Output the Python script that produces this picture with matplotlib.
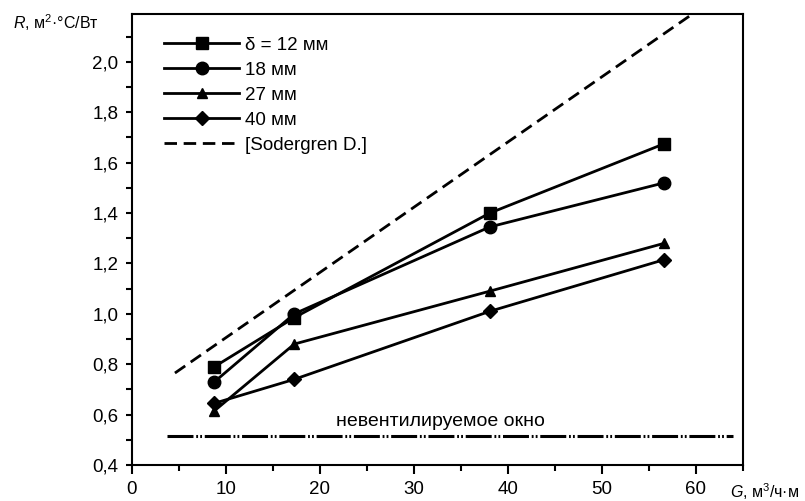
import matplotlib
matplotlib.use("Agg")
import matplotlib.pyplot as plt
from matplotlib.ticker import MultipleLocator, FuncFormatter

plt.rcParams['font.family'] = ['Liberation Sans', 'DejaVu Sans']
plt.rcParams['mathtext.fontset'] = 'custom'
plt.rcParams['mathtext.rm'] = 'Liberation Sans'
plt.rcParams['mathtext.it'] = 'Liberation Sans:italic'

# Data
G = [8.8, 17.3, 38.1, 56.65]
R_12 = [0.79, 0.985, 1.40, 1.675]
R_18 = [0.73, 1.00, 1.345, 1.52]
R_27 = [0.615, 0.88, 1.09, 1.28]
R_40 = [0.645, 0.74, 1.01, 1.215]
sod_G = [4.6, 61.0]
sod_R = [0.765, 2.225]
unvent_G = [3.8, 64.0]
unvent_R = [0.515, 0.515]
labels = ["δ = 12 мм", "18 мм", "27 мм", "40 мм", "[Sodergren D.]"]

fig = plt.figure(figsize=(8.05, 5.01), dpi=100)
ax = fig.add_axes([0.1636, 0.0719, 0.7590, 0.9001])

lw = 2.0
ax.plot(G, R_12, color='black', lw=lw, marker='s', ms=9, label=labels[0])
ax.plot(G, R_18, color='black', lw=lw, marker='o', ms=9, label=labels[1])
ax.plot(G, R_27, color='black', lw=lw, marker='^', ms=7, label=labels[2])
ax.plot(G, R_40, color='black', lw=lw, marker='D', ms=7.5, label=labels[3])
ax.plot(sod_G, sod_R, color='black', lw=2.0, ls=(0, (4.5, 2.4)), label=labels[4])
ax.plot(unvent_G, unvent_R, color='black', lw=2.2,
        ls=(0, (8.5, 0.9, 0.6, 0.7, 0.6, 0.9)))
ax.text(32.8, 0.54, "невентилируемое окно", ha='center', va='bottom', fontsize=14)

ax.set_xlim(0, 65)
ax.set_ylim(0.4, 2.19)
ax.xaxis.set_major_locator(MultipleLocator(10))
ax.xaxis.set_minor_locator(MultipleLocator(5))
ax.yaxis.set_major_locator(MultipleLocator(0.2))
ax.yaxis.set_minor_locator(MultipleLocator(0.1))
ax.yaxis.set_major_formatter(FuncFormatter(lambda v, p: f"{v:.1f}".replace('.', ',')))
ax.tick_params(which='both', direction='out', width=1.5, labelsize=13.5, top=False, right=False)
ax.tick_params(axis='x', which='major', length=6.5, pad=5)
ax.tick_params(axis='x', which='minor', length=4.5)
ax.tick_params(axis='y', which='both', length=4.5, pad=5)
for s in ax.spines.values():
    s.set_linewidth(1.5)

leg = ax.legend(loc='upper left', bbox_to_anchor=(0.035, 0.975), frameon=False,
                fontsize=13.5, handlelength=4.0, labelspacing=0.42, handletextpad=0.3,
                borderaxespad=0.2)

fig.text(0.016, 0.955, r"$R$, м$^{2}$·°C/Вт", fontsize=11.5, ha='left', va='center')
fig.text(0.993, 0.018, r"$G$, м$^{3}$/ч·м", fontsize=11.5, ha='right', va='center')

fig.savefig("out.png", dpi=100)
